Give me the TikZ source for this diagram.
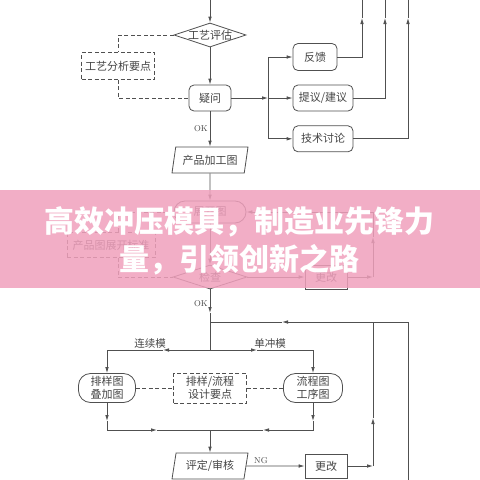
\documentclass[tikz,border=0pt]{standalone}
\usepackage{fontspec}
\newfontfamily\cjk{Noto Sans CJK SC}
\usetikzlibrary{arrows.meta,positioning}
\usetikzlibrary{shapes.geometric}

\definecolor{linegray}{HTML}{505050}
\definecolor{textgray}{HTML}{454545}
\definecolor{bandpink}{RGB}{240,160,188}

\begin{document}
\begin{tikzpicture}[x=1pt,y=-1pt]

  % --- 定义样式 ---
  \tikzset{
    % 所有方框的共同样式:灰框、白底、灰字
    basebox/.style={
      draw=linegray,
      line width=0.8pt,
      fill=white,
      text=textgray,
      font=\cjk\fontsize{11}{13.5}\selectfont,
      align=center,
      inner sep=1pt
    },
    % 圆角处理框
    procbox/.style={basebox, rounded corners=5pt, minimum height=26pt},
    % 直角方框(更改)
    plainbox/.style={basebox, minimum width=42pt, minimum height=24pt},
    % 两端圆头的框
    termbox/.style={basebox, rounded corners=11pt, minimum height=22pt},
    % 平行四边形(图纸)
    databox/.style={
      basebox,
      trapezium,
      trapezium left angle=73,
      trapezium right angle=107,
      trapezium stretches body,
      minimum width=76pt,
      minimum height=26pt
    },
    % 菱形判断框
    decision/.style={basebox, diamond, minimum width=72pt, minimum height=24pt, inner sep=0pt},
    % 虚线要点框
    notebox/.style={basebox, dash pattern=on 4pt off 2.5pt},
    % 连线
    flowline/.style={draw=linegray, line width=0.8pt},
    arrowline/.style={flowline, -{Latex[length=6pt,width=3.6pt]}},
    dashline/.style={flowline, dash pattern=on 4pt off 2.5pt},
    % 连线上的文字
    lbl/.style={text=textgray, inner sep=1.5pt, font=\cjk\fontsize{10.5}{12}\selectfont},
    oklbl/.style={text=textgray, inner sep=2pt, font=\fontsize{8.5}{10}\selectfont},
    % 粉色横幅上的标题
    banner/.style={text=white, align=center, inner sep=0pt, font=\cjk\bfseries\fontsize{30}{38}\selectfont}
  }

  \useasboundingbox (0,0) rectangle (480,480);

  % --- 上半部分:工艺评估 ---
  \coordinate (intop) at (210,0);
  \node[decision] (assess) at (210,35) {\makebox[0pt]{工艺评估}};
  \node[notebox, minimum width=73pt, minimum height=27pt] (tipsA) at (118,66) {工艺分析要点};
  \node[procbox, minimum width=42pt] (ask) at (210,98) {疑问};
  \node[databox] (prod) at (210,160) {产品加工图};

  % 右侧三个回馈框
  \node[procbox, minimum width=44pt, minimum height=27pt] (fb) at (315,57) {反馈};
  \node[procbox, minimum width=60pt] (prop) at (323,98) {提议/建议};
  \node[procbox, minimum width=60pt, below=14pt of prop] (tech) {技术讨论};

  \coordinate (split) at (268,98);
  \coordinate (up1) at (362,18);
  \coordinate (up2) at (385,18);
  \coordinate (up3) at (408,18);

  \draw[arrowline] (intop) -- (assess.north);
  \draw[arrowline] (assess) -- (ask);
  \draw[dashline] (assess.west) -| (tipsA.north);
  \draw[dashline] (tipsA.south) |- (ask.west);
  \draw[arrowline] (ask) -- node[oklbl, left] (ok1) {OK} (prod);

  \draw[arrowline] (ask.east) -- (split);
  \draw[arrowline] (split) |- (fb.west);
  \draw[arrowline] (split) -- (prop.west);
  \draw[arrowline] (split) |- (tech.west);

  \draw[arrowline] (fb.east) -| (up1);
  \draw[flowline] (up1) -- (up1 |- intop);
  \draw[arrowline] (prop.east) -| (up2);
  \draw[flowline] (up2) -- (up2 |- intop);
  \draw[arrowline] (tech.east) -| (up3);
  \draw[flowline] (up3) -- (up3 |- intop);

  % --- 中间部分:展开图检查 ---
  \node[termbox, minimum width=72pt] (unfold) at (210,212) {展开图};
  \node[notebox, minimum width=88pt, minimum height=25pt] (tipsB) at (111,245) {产品图展开标准};
  \node[decision, minimum width=74pt] (check) at (210,277) {\makebox[0pt]{检查}};
  \node[plainbox] (revise1) at (326,277) {更改};

  \coordinate (c1) at (373,277);
  \coordinate (c1up) at (373,237);

  \draw[arrowline] (prod) -- (unfold);
  \draw[dashline] (unfold.west) -| ([xshift=7pt]tipsB.north);
  \draw[dashline] ([xshift=7pt]tipsB.south) |- (check.west);
  \draw[arrowline] (unfold) -- (check);
  \draw[arrowline] (check) -- (revise1);
  \draw[arrowline] (revise1.east) -- (c1);
  \draw[arrowline] (c1) -- (c1up);
  \draw[arrowline] (c1up) |- (unfold.east);

  % --- 下半部分:排样/流程设计 ---
  \coordinate (okpt) at (210,313);
  \coordinate (merge) at (210,322);
  \coordinate (branch) at (210,350);
  \coordinate (lmid) at (163,350);
  \coordinate (rmid) at (257,350);

  \node[termbox, rounded corners=12pt, minimum width=57pt, minimum height=29pt] (stack) at (107,388) {排样图\\叠加图};
  \node[notebox, minimum width=73pt, minimum height=30pt] (tipsC) at (210,388) {排样/流程\\设计要点};
  \node[termbox, rounded corners=12pt, minimum width=59pt, minimum height=29pt] (flowc) at (313,388) {流程图\\工序图};
  \node[databox] (review) at (210,466) {评定/审核};
  \node[plainbox] (revise2) at (326,466) {更改};

  \node[lbl, above] (lcont) at (150,350) {连续模};
  \node[lbl, above] (lsingle) at (270,350) {单冲模};

  \draw[arrowline] (check) -- node[oklbl, left, pos=0.6] (ok2) {OK} (okpt);
  \draw[flowline] (okpt) -- (branch);

  \draw[arrowline] (branch) -- (lmid);
  \draw[arrowline] (lmid) -| (stack.north);
  \draw[arrowline] (branch) -- (rmid);
  \draw[arrowline] (rmid) -| (flowc.north);

  \draw[dashline] (stack) -- (tipsC);
  \draw[dashline] (tipsC) -- (flowc);

  \coordinate (sdown) at (107,421);
  \coordinate (fdown) at (313,421);
  \coordinate (ltip) at (157,430);
  \coordinate (rtip) at (263,430);
  \coordinate (join) at (210,430);

  \draw[arrowline] (stack.south) -- (sdown);
  \draw[arrowline] (sdown) |- (ltip);
  \draw[flowline] (ltip) -- (join);
  \draw[arrowline] (flowc.south) -- (fdown);
  \draw[arrowline] (fdown) |- (rtip);
  \draw[flowline] (rtip) -- (join);
  \draw[arrowline] (join) -- (review);

  \draw[arrowline] (review) -- node[oklbl, above, pos=0.25] (ng) {NG} (revise2);

  % 更改后回到主线
  \coordinate (c2) at (373,466);
  \coordinate (c2up) at (373,418);
  \coordinate (loopM) at (373,322);
  \coordinate (loopR) at (408,322);
  \coordinate (outbot) at (408,480);
  \coordinate (larrow) at (282,322);

  \draw[arrowline] (revise2.east) -- (c2);
  \draw[arrowline] (c2) -- (c2up);
  \draw[flowline] (c2up) -- (loopM);
  \draw[flowline] (outbot) -- (loopR) -- (loopM);
  \draw[arrowline] (loopM) -- (larrow);
  \draw[flowline] (larrow) -- (merge);

  % --- 粉色横幅 ---
  \fill[bandpink, opacity=0.85] (0,190) rectangle (480,288);
  \node[banner] (slogan) at (240,241) {高效冲压模具{\char"FF0C}制造业先锋力\\量{\char"FF0C}引领创新之路};

\end{tikzpicture}
\end{document}
